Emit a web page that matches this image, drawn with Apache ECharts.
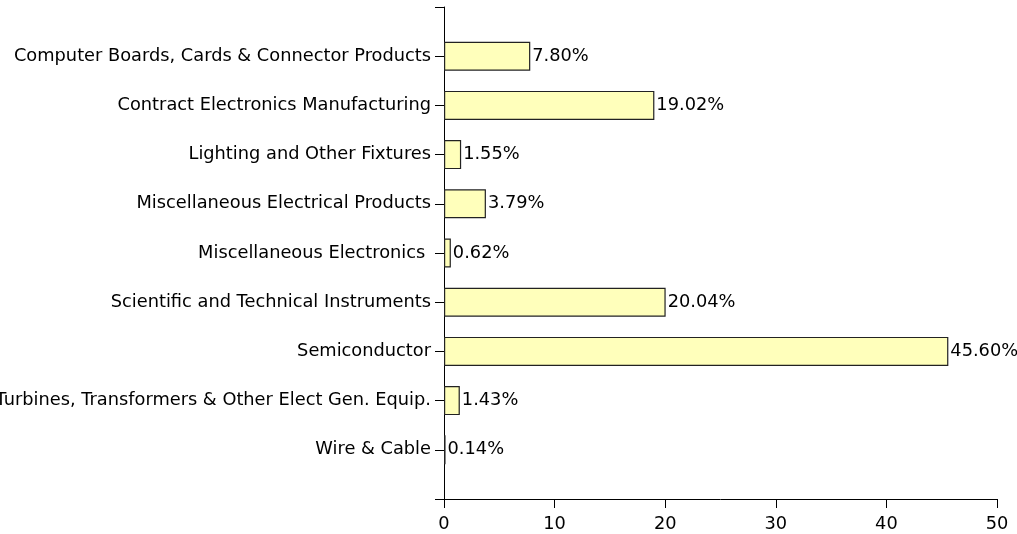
<!DOCTYPE html>
<html><head><meta charset="utf-8">
<script src="https://cdn.jsdelivr.net/npm/echarts@6/dist/echarts.min.js"></script>
<style>html,body{margin:0;padding:0;background:#fff}#c{width:1017px;height:534px}</style>
</head><body><div id="c"></div>
<script>
const categories = [
  "Computer Boards, Cards & Connector Products",
  "Contract Electronics Manufacturing",
  "Lighting and Other Fixtures",
  "Miscellaneous Electrical Products",
  "Miscellaneous Electronics ",
  "Scientific and Technical Instruments",
  "Semiconductor",
  "Turbines, Transformers & Other Elect Gen. Equip.",
  "Wire & Cable"
];
const values = [7.80, 19.02, 1.55, 3.79, 0.62, 20.04, 45.60, 1.43, 0.14];
const xTicks = [0, 10, 20, 30, 40, 50];

const font = "DejaVu Sans";
const fs = 17.8;
const chart = echarts.init(document.getElementById('c'));
chart.setOption({
  animation: false,
  grid: {left: 444, right: 20, top: 7, bottom: 35, containLabel: false, outerBoundsMode: 'none'},
  xAxis: {
    type: 'value', min: xTicks[0], max: xTicks[xTicks.length-1], interval: 10,
    axisLine: {show: true, lineStyle: {color: '#000', width: 1}},
    axisTick: {show: true, length: 9, lineStyle: {color: '#000'}},
    splitLine: {show: false},
    axisLabel: {color: '#000', fontFamily: font, fontSize: fs, margin: 16, hideOverlap: false}
  },
  yAxis: {
    type: 'category', inverse: true, boundaryGap: false,
    data: [''].concat(categories, ['']),
    axisLine: {show: true, lineStyle: {color: '#000', width: 1}},
    axisTick: {show: true, length: 9, interval: 0, lineStyle: {color: '#000'}},
    axisLabel: {color: '#000', fontFamily: font, fontSize: fs, margin: 13, interval: 0,
      padding: [3, 0, 0, 0]}
  },
  series: [{
    type: 'bar',
    data: [null].concat(values, [null]),
    barWidth: 29,
    itemStyle: {color: '#ffffbb', borderColor: '#222', borderWidth: 1.2},
    label: {show: true, position: 'right', distance: 2, color: '#000', fontFamily: font, fontSize: fs,
      padding: [3, 0, 0, 0],
      formatter: p => p.value == null ? '' : p.value.toFixed(2) + '%'}
  }]
});
</script></body></html>
